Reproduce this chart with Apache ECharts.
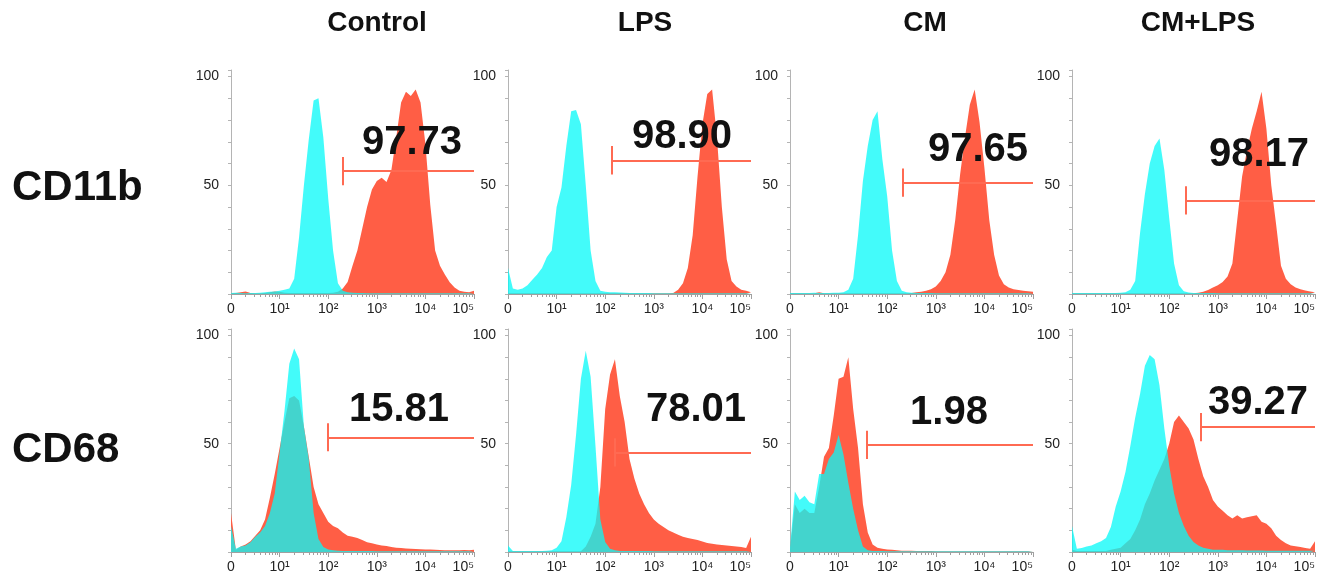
<!DOCTYPE html>
<html>
<head>
<meta charset="utf-8">
<title>CD11b / CD68 flow cytometry</title>
<script src="https://cdn.jsdelivr.net/npm/echarts@6/dist/echarts.min.js"></script>
<style>
  html, body { margin: 0; padding: 0; background: #fff; }
  #main { width: 1324px; height: 574px; }
</style>
</head>
<body>
<div id="main"></div>
<script>
var groups = ['Control', 'LPS', 'CM', 'CM+LPS'];
var markers = ['CD11b', 'CD68'];

// x positions in decades (0 = 0, 1 = 10^1 ... 5 = 10^5), one histogram bin every 0.1 decade
var decades = [0, 0.1, 0.2, 0.3, 0.4, 0.5, 0.6, 0.7, 0.8, 0.9,
  1, 1.1, 1.2, 1.3, 1.4, 1.5, 1.6, 1.7, 1.8, 1.9,
  2, 2.1, 2.2, 2.3, 2.4, 2.5, 2.6, 2.7, 2.8, 2.9,
  3, 3.1, 3.2, 3.3, 3.4, 3.5, 3.6, 3.7, 3.8, 3.9,
  4, 4.1, 4.2, 4.3, 4.4, 4.5, 4.6, 4.7, 4.8, 4.9, 5];
var decadeTicks = [0, 1, 2, 3, 4, 5];
var decadeLabels = ['0', '10¹', '10²', '10³', '10⁴', '10⁵'];
var countLabels = [50, 100];

// CD11b, isotype (cyan) and stained (red), % of max
var cd11bControlIso = [0.5, 0.6, 0.5, 0.4, 0.5, 0.5, 0.6, 0.8, 1.0, 1.2,
  1.5, 2.0, 2.5, 7, 26, 50, 71, 89, 90, 72,
  44, 20, 5, 1.5, 0.8, 0.6, 0.5, 0.5, 0.4, 0.4,
  0.4, 0.4, 0.4, 0.4, 0.4, 0.4, 0.4, 0.4, 0.4, 0.4,
  0.4, 0.4, 0.4, 0.4, 0.4, 0.4, 0.4, 0.4, 0.4, 0.4, 0.4];
var cd11bControlPos = [0.3, 0.5, 0.8, 1.2, 0.5, 0.4, 0.4, 0.5, 0.8, 1.2,
  1.0, 0.6, 0.5, 0.5, 0.5, 0.5, 0.5, 0.5, 0.5, 0.5,
  0.5, 0.6, 1.0, 2.5, 5.5, 13, 20, 30, 40, 48,
  52, 53.5, 51.5, 57, 72, 88, 93, 91, 94, 88,
  69, 41, 20, 13, 9, 5.4, 3, 1.5, 1.0, 0.8, 1.5];
var cd11bLpsIso = [12, 2.5, 2, 2.5, 4, 6.5, 9, 12, 17, 20,
  40, 49, 68, 84, 84.6, 78, 50, 20, 6, 1.5,
  1, 0.8, 0.8, 0.7, 0.6, 0.5, 0.5, 0.5, 0.5, 0.5,
  0.4, 0.4, 0.4, 0.4, 0.4, 0.4, 0.4, 0.4, 0.4, 0.4,
  0.4, 0.4, 0.4, 0.4, 0.4, 0.4, 0.4, 0.4, 0.4, 0.4, 0.4];
var cd11bLpsPos = [0.3, 0.3, 0.3, 0.3, 0.3, 0.3, 0.3, 0.3, 0.3, 0.3,
  0.3, 0.3, 0.3, 0.3, 0.3, 0.3, 0.3, 0.3, 0.3, 0.3,
  0.3, 0.3, 0.3, 0.3, 0.3, 0.3, 0.3, 0.3, 0.3, 0.3,
  0.3, 0.3, 0.3, 0.3, 0.5, 2, 5, 12, 27, 54,
  78, 92, 94, 72, 40, 16, 6, 3.5, 2, 1.5, 0.8];
var cd11bCmIso = [0.5, 0.5, 0.5, 0.5, 0.5, 0.6, 0.5, 0.5, 0.5, 0.6,
  0.6, 0.8, 2, 7, 27, 52, 68, 80, 84, 62,
  45, 20, 6, 1.5, 0.8, 0.6, 0.5, 0.5, 0.5, 0.5,
  0.4, 0.4, 0.4, 0.4, 0.4, 0.4, 0.4, 0.4, 0.4, 0.4,
  0.4, 0.4, 0.4, 0.4, 0.4, 0.4, 0.4, 0.4, 0.4, 0.4, 0.4];
var cd11bCmPos = [0.3, 0.3, 0.3, 0.3, 0.3, 0.3, 0.8, 0.3, 0.3, 0.3,
  0.3, 0.3, 0.3, 0.3, 0.3, 0.3, 0.3, 0.3, 0.3, 0.3,
  0.3, 0.3, 0.3, 0.3, 0.3, 0.5, 0.8, 1, 1.5, 2.2,
  3.5, 6, 10, 18, 34, 55, 72, 87, 94, 79,
  58, 34, 18, 8.5, 4.5, 3, 2.2, 1.8, 1.5, 1.3, 1];
var cd11bCmLpsIso = [0.5, 0.5, 0.5, 0.5, 0.5, 0.5, 0.5, 0.5, 0.5, 0.5,
  0.6, 0.8, 2, 6, 28, 46, 60, 68, 71.5, 57,
  35, 14, 4, 1.3, 0.7, 0.5, 0.5, 0.5, 0.5, 0.5,
  0.4, 0.4, 0.4, 0.4, 0.4, 0.4, 0.4, 0.4, 0.4, 0.4,
  0.4, 0.4, 0.4, 0.4, 0.4, 0.4, 0.4, 0.4, 0.4, 0.4, 0.4];
var cd11bCmLpsPos = [0.3, 0.3, 0.3, 0.3, 0.3, 0.3, 0.3, 0.3, 0.3, 0.3,
  0.3, 0.3, 0.3, 0.3, 0.3, 0.3, 0.3, 0.3, 0.3, 0.3,
  0.3, 0.3, 0.3, 0.3, 0.3, 0.3, 0.6, 1, 1.8, 3,
  4, 5.5, 8, 14, 34, 54, 66, 76, 84, 93,
  76, 50, 32, 13, 7, 4.5, 3, 2.2, 1.6, 1.2, 0.8];

// CD68
var cd68ControlIso = [12, 1.5, 2.5, 3, 4.5, 7, 9, 12, 18, 27,
  46, 65, 87, 94, 89, 58, 43, 18, 6, 2.3,
  1.2, 0.8, 0.6, 0.5, 0.5, 0.5, 0.5, 0.5, 0.5, 0.5,
  0.4, 0.4, 0.4, 0.4, 0.4, 0.4, 0.4, 0.4, 0.4, 0.4,
  0.4, 0.4, 0.4, 0.4, 0.4, 0.4, 0.4, 0.4, 0.4, 0.4, 0.4];
var cd68ControlPos = [18, 1, 2.5, 3.5, 5, 7.5, 10, 15, 25, 36,
  48, 60, 71, 72, 70, 58, 44, 30, 22, 18,
  14, 12, 11, 9, 7.5, 7, 6.5, 5.5, 4.5, 4,
  3.5, 3, 2.8, 2.3, 2, 1.8, 1.6, 1.5, 1.4, 1.3,
  1.2, 1.1, 1, 0.9, 0.8, 0.8, 0.8, 0.8, 0.9, 0.8, 1];
var cd68LpsIso = [3, 0.5, 0.5, 0.5, 0.5, 0.5, 0.5, 0.5, 0.6, 0.8,
  2, 5, 16, 31, 54, 80, 93, 81, 49, 15,
  4.6, 1.5, 0.8, 0.5, 0.5, 0.5, 0.5, 0.5, 0.5, 0.5,
  0.4, 0.4, 0.4, 0.4, 0.4, 0.4, 0.4, 0.4, 0.4, 0.4,
  0.4, 0.4, 0.4, 0.4, 0.4, 0.4, 0.4, 0.4, 0.4, 0.4, 0.4];
var cd68LpsPos = [0.3, 0.3, 0.3, 0.3, 0.3, 0.3, 0.3, 0.3, 0.3, 0.3,
  0.3, 0.3, 0.3, 0.3, 0.3, 0.3, 2.5, 7, 13, 30,
  66, 82, 89, 72, 60, 43, 34, 27, 22, 18,
  15, 13, 11.5, 10, 9, 8, 7, 6.5, 6, 5.5,
  4.8, 4.2, 3.8, 3.5, 3.2, 3, 2.8, 2.5, 2.3, 1.8, 7];
var cd68CmIso = [2, 28, 24, 26, 23, 22, 36, 36, 43, 46,
  54, 45, 32, 20, 10, 2.5, 0.8, 0.5, 0.5, 0.5,
  0.4, 0.4, 0.4, 0.4, 0.4, 0.4, 0.4, 0.4, 0.4, 0.4,
  0.4, 0.4, 0.4, 0.4, 0.4, 0.4, 0.4, 0.4, 0.4, 0.4,
  0.4, 0.4, 0.4, 0.4, 0.4, 0.4, 0.4, 0.4, 0.4, 0.4, 0.4];
var cd68CmPos = [1, 22, 18, 20, 18, 18, 30, 44, 48, 63,
  80, 81, 90, 66, 48, 22, 9, 3.5, 2, 1.5,
  1.2, 1, 0.8, 0.6, 0.6, 0.6, 0.5, 0.5, 0.5, 0.5,
  0.4, 0.4, 0.4, 0.4, 0.4, 0.4, 0.4, 0.4, 0.4, 0.4,
  0.4, 0.4, 0.4, 0.4, 0.4, 0.4, 0.4, 0.4, 0.4, 0.4, 0.4];
var cd68CmLpsIso = [12, 1.5, 1.8, 2.5, 3, 4, 5, 6.5, 11.5, 21,
  28, 37, 49, 62, 73, 86, 91, 89, 77, 57,
  40, 27, 18, 12, 7.5, 4.6, 3, 2, 1.5, 1,
  1, 1, 0.8, 0.8, 0.8, 0.8, 0.7, 0.7, 0.7, 0.7,
  0.6, 0.6, 0.6, 0.6, 0.6, 0.6, 0.6, 0.6, 0.6, 0.6, 0.6];
var cd68CmLpsPos = [1, 0.5, 0.5, 0.5, 0.5, 0.5, 0.5, 0.5, 1, 1.5,
  2, 4, 6, 10, 15, 22, 27, 33, 38, 43,
  50, 60, 63, 60, 57, 52, 43, 35, 30, 24,
  21, 19, 17, 15.5, 17, 15.5, 16, 16.5, 17, 14,
  13, 11, 7.5, 5.5, 4, 3, 2.6, 2.3, 1.8, 1.5, 5];

// positive gate: % positive, start of gate (decades) and height
var cd11bPercent = ['97.73', '98.90', '97.65', '98.17'];
var cd68Percent = ['15.81', '78.01', '1.98', '39.27'];
var cd11bGateX = [2.30, 2.14, 2.33, 2.35];
var cd11bGateY = [56.5, 61.5, 51.2, 43];
var cd68GateX = [2.0, 2.2, 1.58, 2.65];
var cd68GateY = [53, 46, 49.5, 57.7];

var isoRows = [[cd11bControlIso, cd11bLpsIso, cd11bCmIso, cd11bCmLpsIso],
               [cd68ControlIso, cd68LpsIso, cd68CmIso, cd68CmLpsIso]];
var posRows = [[cd11bControlPos, cd11bLpsPos, cd11bCmPos, cd11bCmLpsPos],
               [cd68ControlPos, cd68LpsPos, cd68CmPos, cd68CmLpsPos]];
var pctRows = [cd11bPercent, cd68Percent];
var gateXRows = [cd11bGateX, cd68GateX];
var gateYRows = [cd11bGateY, cd68GateY];

// layout
var FONT = '"Liberation Sans", Arial, Helvetica, sans-serif';
var RED = '#ff5e45';
var CYAN = 'rgba(8, 250, 248, 0.76)';
var GATE = '#ff6a52';
var AXIS = '#a0a0a0';
var colLeft = [231, 508, 790, 1072];
var rowTop = [70, 329];
var plotW = 243, plotH = 224;
var titleX = [377, 645, 925, 1198];
var rowLabelY = [188, 450];
var pctOffset = [[[181, 73], [174, 67], [188, 80], [187, 85]],
                 [[168, 81], [188, 81], [159, 84], [186, 74]]];

var minorTicks = [];
for (var d = 0; d < 5; d++) {
  for (var k = 2; k < 10; k++) minorTicks.push(d + Math.log10(k));
}

function pairs(ys) {
  return decades.map(function (x, i) { return [x, ys[i]]; });
}

var option = {
  animation: false,
  grid: [], xAxis: [], yAxis: [], series: [], graphic: []
};

for (var r = 0; r < 2; r++) {
  for (var c = 0; c < 4; c++) {
    var i = r * 4 + c;
    option.grid.push({ left: colLeft[c], top: rowTop[r], width: plotW, height: plotH });
    option.xAxis.push({
      type: 'value', gridIndex: i, min: 0, max: 5, position: 'bottom',
      axisLine: { show: true, lineStyle: { color: AXIS, width: 1 } },
      axisTick: { show: true, customValues: decadeTicks, length: 5, lineStyle: { color: AXIS } },
      axisLabel: {
        customValues: decadeTicks, fontSize: 14, color: '#222', fontFamily: FONT, margin: 8,
        alignMaxLabel: 'right',
        formatter: function (v) { return decadeLabels[Math.round(v)]; }
      },
      splitLine: { show: false }
    });
    option.xAxis.push({
      type: 'value', gridIndex: i, min: 0, max: 5, position: 'bottom',
      axisLine: { show: false },
      axisTick: { show: true, customValues: minorTicks, length: 3, lineStyle: { color: AXIS } },
      axisLabel: { show: false },
      splitLine: { show: false }
    });
    option.yAxis.push({
      type: 'value', gridIndex: i, min: 0, max: 103, interval: 10,
      axisLine: { show: true, lineStyle: { color: '#b4b4b4', width: 1 } },
      axisTick: { show: true, length: 3, lineStyle: { color: '#b4b4b4' } },
      axisLabel: { customValues: countLabels, fontSize: 14, color: '#222', fontFamily: FONT, margin: 12 },
      splitLine: { show: false }
    });

    var gx = gateXRows[r][c], gy = gateYRows[r][c];
    option.series.push({
      type: 'line', xAxisIndex: i * 2, yAxisIndex: i, silent: true,
      data: pairs(posRows[r][c]), symbol: 'none',
      lineStyle: { width: 0 },
      areaStyle: { color: RED, opacity: 1 },
      markLine: {
        silent: true, symbol: ['none', 'none'], label: { show: false },
        lineStyle: { color: GATE, width: 2, type: 'solid' },
        data: [
          [{ coord: [gx, gy] }, { coord: [5, gy] }],
          [{ coord: [gx, gy - 6.5] }, { coord: [gx, gy + 6.5] }]
        ]
      }
    });
    option.series.push({
      type: 'line', xAxisIndex: i * 2, yAxisIndex: i, silent: true,
      data: pairs(isoRows[r][c]), symbol: 'none',
      lineStyle: { width: 0 },
      areaStyle: { color: CYAN, opacity: 1 }
    });

    option.graphic.push({
      type: 'text', z: 100,
      x: colLeft[c] + pctOffset[r][c][0], y: rowTop[r] + pctOffset[r][c][1],
      style: {
        text: pctRows[r][c], fontSize: 40, fontWeight: 'bold', fontFamily: FONT,
        fill: '#111', align: 'center', verticalAlign: 'middle'
      }
    });
  }
}

groups.forEach(function (g, c) {
  option.graphic.push({
    type: 'text', z: 100, x: titleX[c], y: 23,
    style: { text: g, fontSize: 28, fontWeight: 'bold', fontFamily: FONT, fill: '#111',
             align: 'center', verticalAlign: 'middle' }
  });
});
markers.forEach(function (m, r) {
  option.graphic.push({
    type: 'text', z: 100, x: 12, y: rowLabelY[r],
    style: { text: m, fontSize: 42, fontWeight: 'bold', fontFamily: FONT, fill: '#111',
             align: 'left', verticalAlign: 'middle' }
  });
});

var myChart = echarts.init(document.getElementById('main'));
myChart.setOption(option);
</script>
</body>
</html>
